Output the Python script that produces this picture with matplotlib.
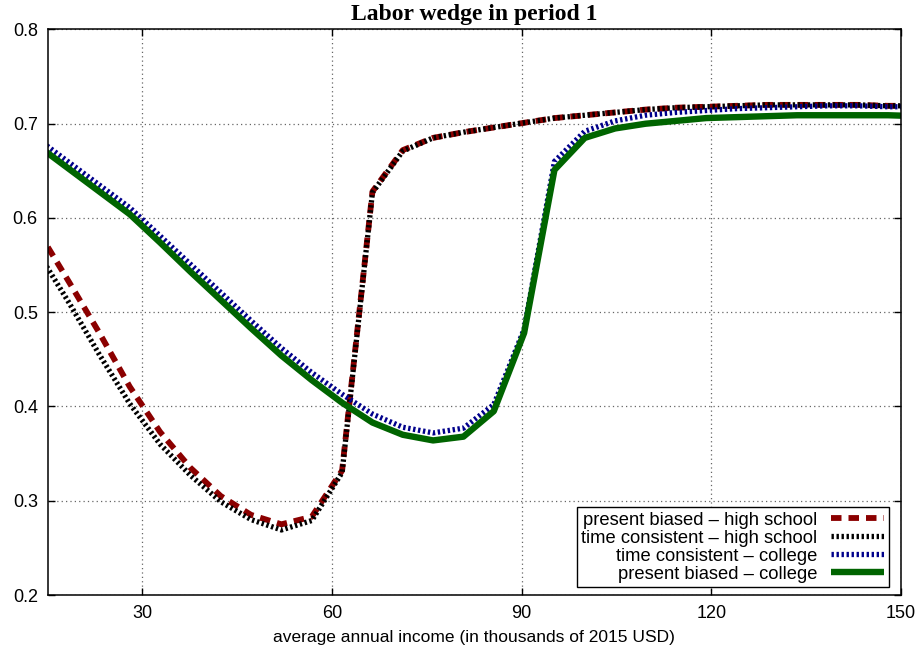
import numpy as np
import matplotlib.pyplot as plt

plt.rcParams['font.family'] = ['Liberation Sans', 'DejaVu Sans']

# income grid (thousands of 2015 USD)
income = [13.6, 18.4, 23.2, 28.0, 32.8, 37.6, 42.4, 47.2, 52.0, 56.8,
          61.6, 66.4, 71.2, 76.0, 80.8, 85.6, 90.4, 95.2, 100.0, 104.8,
          109.6, 114.4, 119.2, 124.0, 128.8, 133.6, 138.4, 143.2, 148.0, 152.8]

pb_high_school = [0.585, 0.532, 0.478, 0.421, 0.373, 0.335, 0.305, 0.285, 0.275, 0.283,
                  0.332, 0.628, 0.672, 0.685, 0.691, 0.696, 0.701, 0.706, 0.709, 0.712,
                  0.715, 0.717, 0.718, 0.719, 0.720, 0.720, 0.720, 0.720, 0.719, 0.719]

tc_high_school = [0.562, 0.510, 0.455, 0.403, 0.360, 0.327, 0.299, 0.280, 0.269, 0.279,
                  0.330, 0.627, 0.671, 0.685, 0.691, 0.696, 0.701, 0.706, 0.709, 0.712,
                  0.715, 0.717, 0.718, 0.719, 0.720, 0.720, 0.720, 0.720, 0.719, 0.719]

tc_college = [0.683, 0.659, 0.635, 0.611, 0.581, 0.551, 0.521, 0.491, 0.462, 0.436,
              0.413, 0.392, 0.378, 0.372, 0.377, 0.402, 0.482, 0.660, 0.692, 0.703,
              0.709, 0.712, 0.714, 0.716, 0.717, 0.718, 0.719, 0.719, 0.718, 0.718]

pb_college = [0.676, 0.652, 0.628, 0.604, 0.574, 0.543, 0.513, 0.483, 0.454, 0.428,
              0.404, 0.383, 0.370, 0.364, 0.368, 0.395, 0.478, 0.651, 0.685, 0.695,
              0.700, 0.703, 0.706, 0.707, 0.708, 0.709, 0.709, 0.709, 0.709, 0.708]

fig = plt.figure(figsize=(9.22, 6.55), dpi=100)
ax = fig.add_axes([0.0516, 0.0916, 0.9254, 0.8634])

ax.plot(income, pb_high_school, color='#8b0000', lw=4.2, dashes=(1.8, 1.2),
        label='present biased \u2013 high school')
ax.plot(income, tc_high_school, color='black', lw=3.8, dashes=(0.45, 0.5),
        label='time consistent \u2013 high school')
ax.plot(income, tc_college, color='#00008b', lw=3.8, dashes=(0.45, 0.5),
        label='time consistent \u2013 college')
ax.plot(income, pb_college, color='#006400', lw=4.6, solid_capstyle='butt',
        label='present biased \u2013 college')

ax.set_xlim(15, 150)
ax.set_ylim(0.2, 0.8)
ax.set_xticks([30, 60, 90, 120, 150])
ax.set_yticks([0.2, 0.3, 0.4, 0.5, 0.6, 0.7, 0.8])
ax.set_yticklabels(['0.2', '0.3', '0.4', '0.5', '0.6', '0.7', '0.8'])
ax.tick_params(direction='in', length=5, width=1, top=True, right=True,
               labelsize=13, pad=7)
ax.grid(True, color='#666666', linestyle=(0, (1, 2.5)), linewidth=0.9)
for s in ax.spines.values():
    s.set_linewidth(1.1)

ax.set_title('Labor wedge in period 1', family='Liberation Serif',
             fontweight='bold', fontsize=17, y=1.0168, pad=0)
ax.set_xlabel('average annual income (in thousands of 2015 USD)', fontsize=12.5,
              labelpad=6)

# key in the lower right, labels right-aligned with samples after the text
leg = ax.legend(loc='lower right', bbox_to_anchor=(0.986, 0.014), borderaxespad=0,
                markerfirst=False, fancybox=False, framealpha=1, edgecolor='black',
                fontsize=13.2, handlelength=2.9, handletextpad=0.75,
                labelspacing=0.05, borderpad=0.25)
leg.get_frame().set_linewidth(1.0)

fig.savefig('out.png', dpi=100)
